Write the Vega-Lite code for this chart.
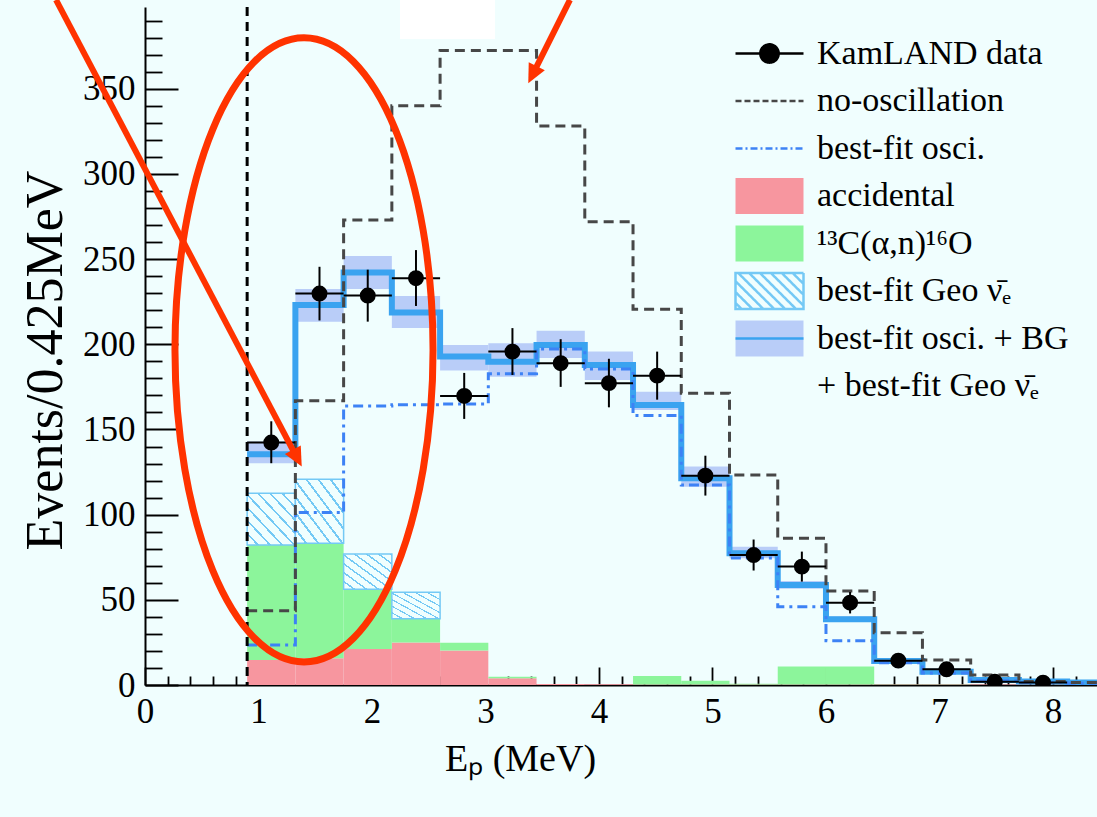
{
  "$schema": "https://vega.github.io/schema/vega-lite/v6.json",
  "width": 952,
  "height": 678,
  "autosize": {"type": "none"},
  "padding": {"left": 145, "top": 7, "right": 0, "bottom": 132},
  "background": "#f0fefe",
  "config": {
    "view": {"stroke": null},
    "font": "'Liberation Serif', 'Times New Roman', Times, serif",
    "legend": {"labelFont": "'Liberation Serif', 'Times New Roman', Times, serif"},
    "axis": {"labelFont": "'Liberation Serif', 'Times New Roman', Times, serif", "titleFont": "'Liberation Serif', 'Times New Roman', Times, serif"}
  },
  "resolve": {"axis": {"x": "independent", "y": "independent"}},
  "datasets": {
    "bins": [
      {"lo":0.9,"hi":1.325,"c":1.1125,"n":142.3,"nlo":130.2,"nhi":154.8,"noosc":43.6,"osc":23.5,"fit":135.5,"blo":130.2,"bhi":143.0,"acc":14.7,"alpha":82.2,"geo":112.6},
      {"lo":1.325,"hi":1.75,"c":1.5375,"n":229.8,"nlo":214.0,"nhi":245.5,"noosc":166.8,"osc":101.2,"fit":223.1,"blo":213.3,"bhi":232.4,"acc":15.7,"alpha":83.2,"geo":120.8},
      {"lo":1.75,"hi":2.175,"c":1.9625,"n":228.6,"nlo":213.3,"nhi":243.8,"noosc":273.0,"osc":163.8,"fit":242.1,"blo":232.4,"bhi":251.9,"acc":21.1,"alpha":56.2,"geo":76.9},
      {"lo":2.175,"hi":2.6,"c":2.3875,"n":238.8,"nlo":222.5,"nhi":255.3,"noosc":340.0,"osc":164.5,"fit":218.6,"blo":209.5,"bhi":228.4,"acc":24.9,"alpha":38.9,"geo":54.4},
      {"lo":2.6,"hi":3.025,"c":2.8125,"n":169.7,"nlo":156.2,"nhi":183.2,"noosc":372.5,"osc":165.0,"fit":192.8,"blo":184.6,"bhi":199.6,"acc":20.2,"alpha":24.8,"geo":null},
      {"lo":3.025,"hi":3.45,"c":3.2375,"n":195.7,"nlo":182.0,"nhi":209.5,"noosc":372.5,"osc":182.7,"fit":189.8,"blo":181.0,"bhi":200.6,"acc":3.9,"alpha":4.9,"geo":null},
      {"lo":3.45,"hi":3.875,"c":3.6625,"n":188.9,"nlo":175.0,"nhi":203.0,"noosc":328.2,"osc":197.3,"fit":199.6,"blo":192.0,"bhi":208.0,"acc":0.6,"alpha":0.6,"geo":null},
      {"lo":3.875,"hi":4.3,"c":4.0875,"n":177.2,"nlo":163.0,"nhi":191.5,"noosc":272.0,"osc":185.5,"fit":187.9,"blo":179.0,"bhi":195.7,"acc":0.4,"alpha":0.4,"geo":null},
      {"lo":4.3,"hi":4.725,"c":4.5125,"n":181.6,"nlo":167.5,"nhi":195.7,"noosc":220.6,"osc":158.2,"fit":164.4,"blo":161.5,"bhi":172.2,"acc":0.3,"alpha":5.3,"geo":null},
      {"lo":4.725,"hi":5.15,"c":4.9375,"n":122.9,"nlo":111.2,"nhi":134.6,"noosc":171.3,"osc":117.4,"fit":121.4,"blo":116.4,"bhi":128.2,"acc":0.3,"alpha":2.5,"geo":null},
      {"lo":5.15,"hi":5.575,"c":5.3625,"n":76.3,"nlo":67.2,"nhi":85.4,"noosc":123.3,"osc":74.5,"fit":77.3,"blo":74.4,"bhi":81.2,"acc":0.3,"alpha":0.8,"geo":null},
      {"lo":5.575,"hi":6.0,"c":5.7875,"n":69.5,"nlo":60.7,"nhi":78.3,"noosc":86.1,"osc":46.0,"fit":58.7,"blo":56.5,"bhi":61.0,"acc":0.3,"alpha":10.8,"geo":null},
      {"lo":6.0,"hi":6.425,"c":6.2125,"n":48.3,"nlo":42.0,"nhi":54.6,"noosc":55.2,"osc":26.0,"fit":38.6,"blo":37.0,"bhi":40.2,"acc":0.3,"alpha":10.8,"geo":null},
      {"lo":6.425,"hi":6.85,"c":6.6375,"n":14.3,"nlo":10.5,"nhi":18.1,"noosc":30.7,"osc":13.0,"fit":14.1,"blo":13.0,"bhi":15.2,"acc":0.3,"alpha":0.5,"geo":null},
      {"lo":6.85,"hi":7.275,"c":7.0625,"n":9.2,"nlo":6.2,"nhi":12.2,"noosc":14.7,"osc":7.0,"fit":7.8,"blo":7.0,"bhi":8.6,"acc":0.3,"alpha":0.4,"geo":null},
      {"lo":7.275,"hi":7.7,"c":7.4875,"n":1.9,"nlo":0.6,"nhi":4.2,"noosc":5.9,"osc":2.5,"fit":2.9,"blo":2.4,"bhi":3.5,"acc":0.3,"alpha":0.3,"geo":null},
      {"lo":7.7,"hi":8.125,"c":7.9125,"n":1.4,"nlo":0.4,"nhi":3.4,"noosc":2.0,"osc":1.5,"fit":2.0,"blo":1.6,"bhi":2.5,"acc":0.2,"alpha":0.2,"geo":null},
      {"lo":8.125,"hi":8.55,"c":8.3375,"n":null,"nlo":null,"nhi":null,"noosc":1.5,"osc":1.0,"fit":1.5,"blo":1.2,"bhi":1.9,"acc":0.2,"alpha":0.2,"geo":null},
      {"lo":8.55,"hi":null,"c":null,"n":null,"nlo":null,"nhi":null,"noosc":1.5,"osc":1.0,"fit":1.5,"blo":null,"bhi":null,"acc":null,"alpha":null,"geo":null}
    ],
    "threshold": [{"E": 0.9}],
    "mask": [{"x1": 2.247, "x2": 3.084, "y1": 379.2, "y2": 402.2}],
    "ellipse": [
      {"i":0,"x":2.538,"y":196.7},{"i":1,"x":2.451,"y":266.8},{"i":2,"x":2.205,"y":326.2},{"i":3,"x":1.836,"y":366.0},
      {"i":4,"x":1.401,"y":379.9},{"i":5,"x":0.966,"y":366.0},{"i":6,"x":0.597,"y":326.2},{"i":7,"x":0.351,"y":266.8},
      {"i":8,"x":0.264,"y":196.7},{"i":9,"x":0.351,"y":126.6},{"i":10,"x":0.597,"y":67.2},{"i":11,"x":0.966,"y":27.4},
      {"i":12,"x":1.401,"y":13.5},{"i":13,"x":1.836,"y":27.4},{"i":14,"x":2.205,"y":67.2},{"i":15,"x":2.451,"y":126.6}
    ],
    "arrows": [
      {"a":1,"i":0,"x":-0.784,"y":402.2},{"a":1,"i":1,"x":1.339,"y":133.4},
      {"a":2,"i":0,"x":3.744,"y":402.2},{"a":2,"i":1,"x":3.416,"y":358.5}
    ],
    "head1": [{"x":1.381,"y":128.2}],
    "head2": [{"x":3.377,"y":353.3}],
    "legend": [
      {"s":"KamLAND data"},{"s":"no-oscillation"},{"s":"best-fit osci."},{"s":"accidental"},
      {"s":"¹³C(α,n)¹⁶O"},{"s":"best-fit Geo ν̄ₑ"},{"s":"best-fit osci. + BG"},{"s":"+ best-fit Geo ν̄ₑ"}
    ]
  },
  "layer": [
    {
      "data": {"name": "bins"},
      "transform": [{"filter": "datum.hi != null"}],
      "mark": {"type": "rect", "color": "#f7969f", "clip": true},
      "encoding": {
        "x": {"field": "lo", "type": "quantitative",
          "scale": {"domain": [0, 8.388], "nice": false, "zero": false},
          "axis": {
            "values": [0,0.2,0.4,0.6,0.8,1,1.2,1.4,1.6,1.8,2,2.2,2.4,2.6,2.8,3,3.2,3.4,3.6,3.8,4,4.2,4.4,4.6,4.8,5,5.2,5.4,5.6,5.8,6,6.2,6.4,6.6,6.8,7,7.2,7.4,7.6,7.8,8,8.2],
            "labelExpr": "abs(datum.value - round(datum.value)) < 0.01 ? format(datum.value, 'd') : ''",
            "labelOverlap": false, "labelFlush": false,
            "labelFontSize": 35, "labelColor": "#000", "labelPadding": 27,
            "tickSize": {"condition": {"test": "abs(datum.value - round(datum.value)) < 0.01", "value": -18}, "value": -9},
            "tickColor": "#000", "tickWidth": 1.8,
            "domainColor": "#000", "domainWidth": 2, "grid": false,
            "title": "Eₚ (MeV)", "titleFontSize": 38, "titleFontWeight": "normal",
            "titleColor": "#000", "titleX": 375, "titleY": 85, "titleBaseline": "alphabetic", "titleAlign": "center"
          }
        },
        "x2": {"field": "hi"},
        "y": {"field": "acc", "type": "quantitative",
          "scale": {"domain": [0, 398], "nice": false, "zero": false},
          "axis": {
            "values": [0,10,20,30,40,50,60,70,80,90,100,110,120,130,140,150,160,170,180,190,200,210,220,230,240,250,260,270,280,290,300,310,320,330,340,350,360,370,380,390],
            "labelExpr": "datum.value % 50 == 0 ? datum.label : ''",
            "labelOverlap": false, "labelFlush": false,
            "labelFontSize": 35, "labelColor": "#000", "labelPadding": 43,
            "tickSize": {"condition": {"test": "datum.value % 50 == 0", "value": -33}, "value": -17},
            "tickColor": "#000", "tickWidth": 1.8,
            "domainColor": "#000", "domainWidth": 2, "grid": false,
            "title": "Events/0.425MeV", "titleFontSize": 52, "titleFontWeight": "normal",
            "titleColor": "#000", "titlePadding": 10, "titleY": 353
          }
        },
        "y2": {"datum": 0}
      }
    },
    {
      "data": {"name": "bins"},
      "transform": [{"filter": "datum.hi != null"}],
      "mark": {"type": "rect", "color": "#8cf59b", "clip": true},
      "encoding": {
        "x": {"field": "lo", "type": "quantitative", "axis": null},
        "x2": {"field": "hi"},
        "y": {"field": "alpha", "type": "quantitative", "axis": null},
        "y2": {"field": "acc"}
      }
    },
    {
      "data": {"name": "bins"},
      "transform": [{"filter": "datum.geo != null"}],
      "mark": {"type": "rect", "clip": true, "stroke": "#74c9f5", "strokeWidth": 1.5,
        "fill": {"gradient": "linear", "x1": 0, "y1": 1, "x2": 1, "y2": 0, "stops": [
          {"offset": 0, "color": "#f0fefe"}, {"offset": 0.1, "color": "#f0fefe"}, {"offset": 0.1, "color": "#74c9f5"}, {"offset": 0.125, "color": "#74c9f5"},
          {"offset": 0.125, "color": "#f0fefe"}, {"offset": 0.225, "color": "#f0fefe"}, {"offset": 0.225, "color": "#74c9f5"}, {"offset": 0.25, "color": "#74c9f5"},
          {"offset": 0.25, "color": "#f0fefe"}, {"offset": 0.35, "color": "#f0fefe"}, {"offset": 0.35, "color": "#74c9f5"}, {"offset": 0.375, "color": "#74c9f5"},
          {"offset": 0.375, "color": "#f0fefe"}, {"offset": 0.475, "color": "#f0fefe"}, {"offset": 0.475, "color": "#74c9f5"}, {"offset": 0.5, "color": "#74c9f5"},
          {"offset": 0.5, "color": "#f0fefe"}, {"offset": 0.6, "color": "#f0fefe"}, {"offset": 0.6, "color": "#74c9f5"}, {"offset": 0.625, "color": "#74c9f5"},
          {"offset": 0.625, "color": "#f0fefe"}, {"offset": 0.725, "color": "#f0fefe"}, {"offset": 0.725, "color": "#74c9f5"}, {"offset": 0.75, "color": "#74c9f5"},
          {"offset": 0.75, "color": "#f0fefe"}, {"offset": 0.85, "color": "#f0fefe"}, {"offset": 0.85, "color": "#74c9f5"}, {"offset": 0.875, "color": "#74c9f5"},
          {"offset": 0.875, "color": "#f0fefe"}, {"offset": 0.975, "color": "#f0fefe"}, {"offset": 0.975, "color": "#74c9f5"}, {"offset": 1, "color": "#74c9f5"}
        ]}
      },
      "encoding": {
        "x": {"field": "lo", "type": "quantitative", "axis": null},
        "x2": {"field": "hi"},
        "y": {"field": "geo", "type": "quantitative", "axis": null},
        "y2": {"field": "alpha"}
      }
    },
    {
      "data": {"name": "bins"},
      "transform": [{"filter": "datum.hi != null"}],
      "mark": {"type": "rect", "color": "#b9cdf8", "clip": true},
      "encoding": {
        "x": {"field": "lo", "type": "quantitative", "axis": null},
        "x2": {"field": "hi"},
        "y": {"field": "bhi", "type": "quantitative", "axis": null},
        "y2": {"field": "blo"}
      }
    },
    {
      "data": {"name": "bins"},
      "mark": {"type": "line", "interpolate": "step-after", "color": "#3aa3f0", "strokeWidth": 6, "clip": true},
      "encoding": {
        "x": {"field": "lo", "type": "quantitative", "axis": null},
        "y": {"field": "fit", "type": "quantitative", "axis": null}
      }
    },
    {
      "data": {"name": "bins"},
      "mark": {"type": "line", "interpolate": "step-after", "color": "#3d82f5", "strokeWidth": 3, "strokeDash": [10, 5, 3, 5], "clip": true},
      "encoding": {
        "x": {"field": "lo", "type": "quantitative", "axis": null},
        "y": {"field": "osc", "type": "quantitative", "axis": null}
      }
    },
    {
      "data": {"name": "bins"},
      "mark": {"type": "line", "interpolate": "step-after", "color": "#474747", "strokeWidth": 3, "strokeDash": [10, 6], "clip": true},
      "encoding": {
        "x": {"field": "lo", "type": "quantitative", "axis": null},
        "y": {"field": "noosc", "type": "quantitative", "axis": null}
      }
    },
    {
      "data": {"name": "threshold"},
      "mark": {"type": "rule", "color": "#000", "strokeWidth": 3, "strokeDash": [9, 6]},
      "encoding": {
        "x": {"field": "E", "type": "quantitative", "axis": null}
      }
    },
    {
      "data": {"name": "bins"},
      "transform": [{"filter": "datum.n != null"}],
      "mark": {"type": "rule", "color": "#000", "strokeWidth": 2, "clip": true},
      "encoding": {
        "x": {"field": "c", "type": "quantitative", "axis": null},
        "y": {"field": "nlo", "type": "quantitative", "axis": null},
        "y2": {"field": "nhi"}
      }
    },
    {
      "data": {"name": "bins"},
      "transform": [{"filter": "datum.n != null"}],
      "mark": {"type": "rule", "color": "#000", "strokeWidth": 2, "clip": true},
      "encoding": {
        "x": {"field": "lo", "type": "quantitative", "axis": null},
        "x2": {"field": "hi"},
        "y": {"field": "n", "type": "quantitative", "axis": null}
      }
    },
    {
      "data": {"name": "bins"},
      "transform": [{"filter": "datum.n != null"}],
      "mark": {"type": "point", "filled": true, "color": "#000", "opacity": 1, "size": 254, "shape": "circle", "clip": true},
      "encoding": {
        "x": {"field": "c", "type": "quantitative", "axis": null},
        "y": {"field": "n", "type": "quantitative", "axis": null}
      }
    },
    {
      "data": {"name": "mask"},
      "mark": {"type": "rect", "color": "#ffffff", "clip": false},
      "encoding": {
        "x": {"field": "x1", "type": "quantitative", "axis": null},
        "x2": {"field": "x2"},
        "y": {"field": "y1", "type": "quantitative", "axis": null},
        "y2": {"field": "y2"}
      }
    },
    {
      "data": {"name": "ellipse"},
      "mark": {"type": "line", "interpolate": "cardinal-closed", "color": "#ff3300", "strokeWidth": 7, "clip": false},
      "encoding": {
        "x": {"field": "x", "type": "quantitative", "axis": null},
        "y": {"field": "y", "type": "quantitative", "axis": null},
        "order": {"field": "i"}
      }
    },
    {
      "data": {"name": "arrows"},
      "mark": {"type": "line", "color": "#ff3300", "strokeWidth": 6, "clip": false, "strokeCap": "butt"},
      "encoding": {
        "x": {"field": "x", "type": "quantitative", "axis": null},
        "y": {"field": "y", "type": "quantitative", "axis": null},
        "detail": {"field": "a"},
        "order": {"field": "i"}
      }
    },
    {
      "data": {"name": "head1"},
      "mark": {"type": "point", "shape": "M0,0L-0.9,1.9L0.9,1.9Z", "filled": true, "color": "#ff3300", "opacity": 1, "size": 400, "angle": 152, "clip": false},
      "encoding": {
        "x": {"field": "x", "type": "quantitative", "axis": null},
        "y": {"field": "y", "type": "quantitative", "axis": null}
      }
    },
    {
      "data": {"name": "head2"},
      "mark": {"type": "point", "shape": "M0,0L-0.9,1.9L0.9,1.9Z", "filled": true, "color": "#ff3300", "opacity": 1, "size": 400, "angle": 206.6, "clip": false},
      "encoding": {
        "x": {"field": "x", "type": "quantitative", "axis": null},
        "y": {"field": "y", "type": "quantitative", "axis": null}
      }
    },
    {
      "data": {"name": "legend"},
      "transform": [{"filter": "false"}],
      "mark": {"type": "point", "filled": true, "opacity": 1, "strokeWidth": 2.5},
      "encoding": {
        "fill": {"field": "s", "type": "nominal",
          "scale": {
            "domain": ["KamLAND data","no-oscillation","best-fit osci.","accidental","¹³C(α,n)¹⁶O","best-fit Geo ν̄ₑ","best-fit osci. + BG","+ best-fit Geo ν̄ₑ"],
            "range": ["#000000", "transparent", "transparent", "#f7969f", "#8cf59b", "#f0fefe", "#b9cdf8", "transparent"]
          },
          "legend": {
            "title": null, "orient": "top-right", "offset": 28, "padding": 0,
            "symbolSize": 1156, "symbolStrokeWidth": 2.5,
            "labelFontSize": 34, "labelColor": "#000", "labelLimit": 0,
            "labelOffset": 46, "rowPadding": 0.5
          }
        },
        "stroke": {"field": "s", "type": "nominal",
          "scale": {
            "domain": ["KamLAND data","no-oscillation","best-fit osci.","accidental","¹³C(α,n)¹⁶O","best-fit Geo ν̄ₑ","best-fit osci. + BG","+ best-fit Geo ν̄ₑ"],
            "range": ["#000000", "#474747", "#3d82f5", "transparent", "transparent", "#74c9f5", "#3aa3f0", "transparent"]
          }
        },
        "shape": {"field": "s", "type": "nominal",
          "scale": {
            "domain": ["KamLAND data","no-oscillation","best-fit osci.","accidental","¹³C(α,n)¹⁶O","best-fit Geo ν̄ₑ","best-fit osci. + BG","+ best-fit Geo ν̄ₑ"],
            "range": [
              "M-1,0H3M0.46,0A0.54,0.54,0,1,1,1.54,0A0.54,0.54,0,1,1,0.46,0ZM1,-1.06M1,1.06",
              "M-1,0H3M1,-1.06M1,1.06", "M-1,0H3M1,-1.06M1,1.06",
              "M-1,-1.06H3V1.06H-1Z", "M-1,-1.06H3V1.06H-1Z",
              "M-1,-1.06H3V1.06H-1Z M-1,0.7L-0.64,1.06 M-1,0.06L0,1.06 M-1,-0.58L0.64,1.06 M-0.84,-1.06L1.28,1.06 M-0.2,-1.06L1.92,1.06 M0.44,-1.06L2.56,1.06 M1.08,-1.06L3,0.86 M1.72,-1.06L3,0.22 M2.36,-1.06L3,-0.42",
              "M-1,0H3V-1.06H-1V1.06H3V0Z",
              "M-1,0H3M1,-1.06M1,1.06"
            ]
          }
        },
        "strokeDash": {"field": "s", "type": "nominal",
          "scale": {
            "domain": ["KamLAND data","no-oscillation","best-fit osci.","accidental","¹³C(α,n)¹⁶O","best-fit Geo ν̄ₑ","best-fit osci. + BG","+ best-fit Geo ν̄ₑ"],
            "range": [[1, 0], [6, 3], [7, 3, 2, 3], [1, 0], [1, 0], [1, 0], [68, 400], [1, 0]]
          }
        }
      }
    }
  ]
}
